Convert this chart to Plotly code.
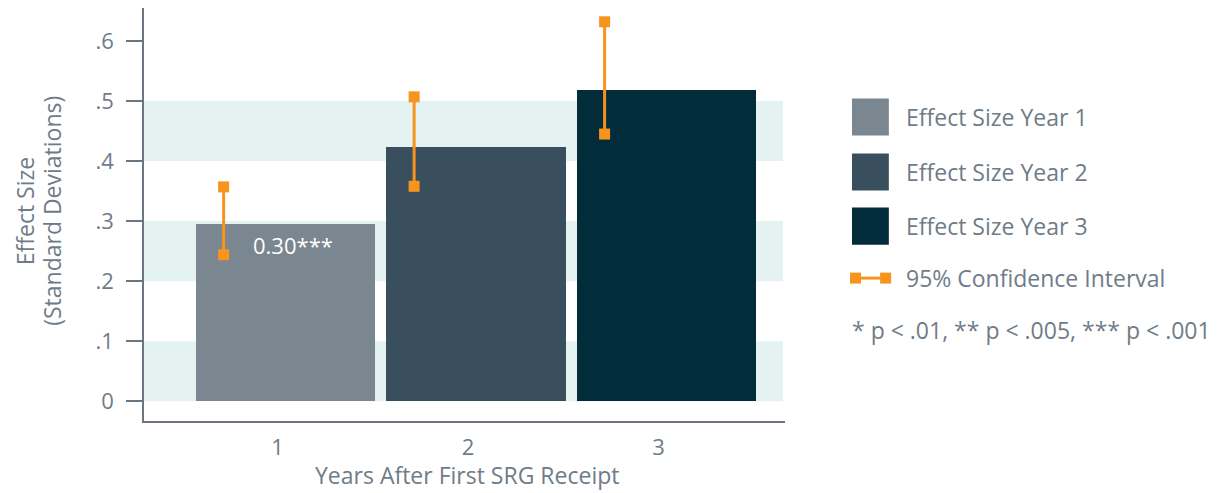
import plotly.graph_objects as go

years = [1, 2, 3]
effect_size = [0.296, 0.423, 0.518]
ci_low = [0.244, 0.358, 0.445]
ci_high = [0.357, 0.507, 0.632]
bar_labels = ["0.30***", "", ""]
series_names = ["Effect Size Year 1", "Effect Size Year 2", "Effect Size Year 3"]
bar_colors = ["#7a8690", "#3a4f5e", "#032c3b"]
ytick_vals = [0, 0.1, 0.2, 0.3, 0.4, 0.5, 0.6]
ytick_text = ["0", ".1", ".2", ".3", ".4", ".5", ".6"]
band_ranges = [(0, 0.1), (0.2, 0.3), (0.4, 0.5)]

TEXT = "#6f7c88"
ORANGE = "#f7941d"
BAND = "#e4f2f2"
AXIS = "#6b7680"
FONT = "Open Sans"
FS = 23

fig = go.Figure()

# bars, one trace per year so each gets its own colour
for yr, val, col, name in zip(years, effect_size, bar_colors, series_names):
    fig.add_trace(go.Bar(
        x=[yr], y=[val], name=name, width=0.94,
        marker=dict(color=col, line=dict(width=0)),
        showlegend=False, hoverinfo="y",
    ))

# confidence intervals, drawn left of the bar centre
CI_SHIFT = -0.325
for yr, lo, hi in zip(years, ci_low, ci_high):
    fig.add_trace(go.Scatter(
        x=[yr + CI_SHIFT, yr + CI_SHIFT], y=[lo, hi],
        mode="lines+markers",
        line=dict(color=ORANGE, width=3),
        marker=dict(symbol="square", size=11, color=ORANGE),
        showlegend=False, hoverinfo="y",
    ))

# value label inside bar 1
for yr, val, lab in zip(years, effect_size, bar_labels):
    if lab:
        fig.add_annotation(x=yr + 0.04, y=val - 0.035, text=lab, showarrow=False,
                           font=dict(family=FONT, size=22, color="white"))

# alternating background bands
for y0, y1 in band_ranges:
    fig.add_shape(type="rect", xref="paper", yref="y", x0=0, x1=0.997, y0=y0, y1=y1,
                  fillcolor=BAND, line=dict(width=0), layer="below")

# custom legend on the right
legend_rows = [0.736, 0.603, 0.472]
for name, col, ry in zip(series_names, bar_colors, legend_rows):
    fig.add_shape(type="rect", xref="paper", yref="paper",
                  x0=1.1045, x1=1.162, y0=ry - 0.045, y1=ry + 0.045,
                  fillcolor=col, line=dict(width=0))
    fig.add_annotation(xref="paper", yref="paper", x=1.185, y=ry, text=name,
                       showarrow=False, xanchor="left", yanchor="middle",
                       font=dict(family=FONT, size=FS, color=TEXT))

ci_row = 0.346
fig.add_shape(type="line", xref="paper", yref="paper", x0=1.11, x1=1.157,
              y0=ci_row, y1=ci_row, line=dict(color=ORANGE, width=3))
for xs in (1.11, 1.157):
    fig.add_shape(type="rect", xref="paper", yref="paper",
                  x0=xs - 0.0086, x1=xs + 0.0086, y0=ci_row - 0.0133, y1=ci_row + 0.0133,
                  fillcolor=ORANGE, line=dict(width=0))
fig.add_annotation(xref="paper", yref="paper", x=1.185, y=ci_row, text="95% Confidence Interval",
                   showarrow=False, xanchor="left", yanchor="middle",
                   font=dict(family=FONT, size=FS, color=TEXT))
fig.add_annotation(xref="paper", yref="paper", x=1.101, y=0.22,
                   text="* p < .01, ** p < .005, *** p < .001",
                   showarrow=False, xanchor="left", yanchor="middle",
                   font=dict(family=FONT, size=FS, color=TEXT))

# axis titles as annotations so their spots stay fixed
fig.add_annotation(xref="paper", yref="paper", x=0.504, y=-0.131,
                   text="Years After First SRG Receipt", showarrow=False,
                   xanchor="center", yanchor="middle",
                   font=dict(family=FONT, size=FS, color=TEXT))
for txt, xp in (("Effect Size", -0.1855), ("(Standard Deviations)", -0.1425)):
    fig.add_annotation(xref="paper", yref="paper", x=xp, y=0.508,
                       text=txt, showarrow=False,
                       textangle=-90, xanchor="center", yanchor="middle",
                       font=dict(family=FONT, size=FS, color=TEXT))

# page body has an 8px margin, so the figure is drawn 8px smaller
fig.update_layout(
    width=1215, height=485,
    margin=dict(l=136, r=438, t=0, b=72),
    plot_bgcolor="white", paper_bgcolor="white",
    font=dict(family=FONT, size=FS, color=TEXT),
    bargap=0,
    xaxis=dict(
        range=[0.257, 3.622], tickvals=years, ticktext=[str(y) for y in years],
        showgrid=False, zeroline=False, showline=True, linecolor=AXIS, linewidth=1.5,
        ticks="", ticklabelstandoff=6, ticklabelshift=-8, automargin=False,
        tickfont=dict(family=FONT, size=22, color=TEXT),
    ),
    yaxis=dict(
        range=[-0.033, 0.655], tickvals=ytick_vals, ticktext=ytick_text,
        showgrid=False, zeroline=False, showline=True, linecolor=AXIS, linewidth=1.5,
        ticks="outside", ticklen=16, tickcolor=AXIS, tickwidth=1.5,
        ticklabelstandoff=8, automargin=False,
        tickfont=dict(family=FONT, size=22, color=TEXT),
    ),
)

fig.write_html("out.html")
